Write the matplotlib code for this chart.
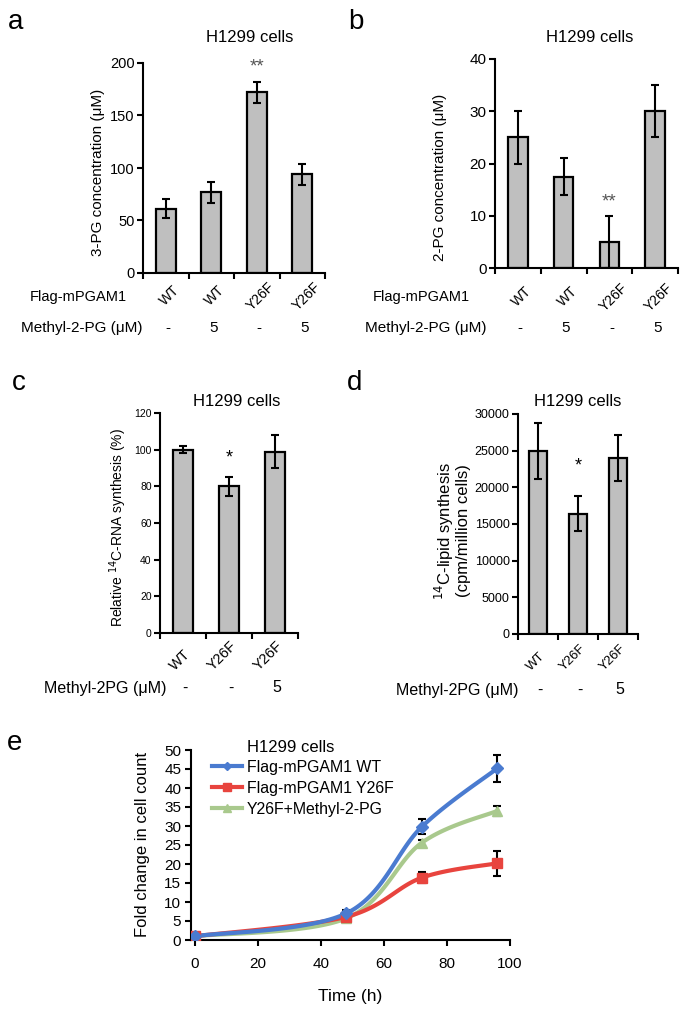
import numpy as np
import matplotlib
matplotlib.use("Agg")
import matplotlib.pyplot as plt
from matplotlib.transforms import offset_copy

plt.rcParams['font.family'] = ['Liberation Sans', 'DejaVu Sans']

# ---------------- data ----------------
a_genotype = ["WT", "WT", "Y26F", "Y26F"]
a_methyl = ["-", "5", "-", "5"]
a_values = [61, 77, 172, 94]
a_errors = [9, 10, 10, 10]

b_genotype = ["WT", "WT", "Y26F", "Y26F"]
b_methyl = ["-", "5", "-", "5"]
b_values = [25, 17.5, 5, 30]
b_errors = [5, 3.5, 5, 5]

c_genotype = ["WT", "Y26F", "Y26F"]
c_methyl = ["-", "-", "5"]
c_values = [100, 80, 99]
c_errors = [2, 5, 9]

d_genotype = ["WT", "Y26F", "Y26F"]
d_methyl = ["-", "-", "5"]
d_values = [25000, 16400, 24000]
d_errors = [3800, 2400, 3100]

e_time = [0, 48, 72, 96]
e_wt = [1, 7.0, 29.8, 45.2]
e_wt_err = [0.3, 0.8, 2.0, 3.5]
e_y26f = [1, 6.1, 16.4, 20.2]
e_y26f_err = [0.3, 0.8, 1.5, 3.3]
e_y26f_m = [1, 5.7, 25.6, 34.0]
e_y26f_m_err = [0.3, 0.5, 0.8, 1.3]
e_labels = ["Flag-mPGAM1 WT", "Flag-mPGAM1 Y26F", "Y26F+Methyl-2-PG"]

W, H = 689, 1014
fig = plt.figure(figsize=(W / 100, H / 100), dpi=100)


def rect(l, r, t, b):
    return [l / W, 1 - b / H, (r - l) / W, (b - t) / H]


def ftext(x, y, s, **kw):
    fig.text(x / W, 1 - y / H, s, **kw)


BAR = "#BFBFBF"


def bar_panel(ax, values, errors, ylim, yticks, tick_fs):
    x = np.arange(len(values))
    ax.bar(x, values, width=0.43, color=BAR, edgecolor="black", linewidth=1.6,
           yerr=errors, capsize=3, error_kw=dict(elinewidth=1.5, capthick=1.5, ecolor="black"))
    ax.set_xlim(-0.5, len(values) - 0.5)
    ax.set_ylim(*ylim)
    ax.set_yticks(yticks)
    ax.set_xticks(np.arange(len(values) + 1) - 0.5)
    ax.set_xticklabels([])
    for s in ["top", "right"]:
        ax.spines[s].set_visible(False)
    for s in ["left", "bottom"]:
        ax.spines[s].set_linewidth(1.5)
    ax.tick_params(axis="both", direction="out", length=4, width=1.5, labelsize=tick_fs, pad=2)


def xlabels(ax, labels, dx, dy, fs, ha, va):
    for i, lab in enumerate(labels):
        tr = offset_copy(ax.get_xaxis_transform(), fig=fig, x=dx, y=dy, units="dots")
        ax.text(i, 0, lab, transform=tr, rotation=45, ha=ha, va=va, fontsize=fs,
                clip_on=False)


def rowvals(ax, labels, dy, fs):
    for i, lab in enumerate(labels):
        tr = offset_copy(ax.get_xaxis_transform(), fig=fig, x=2, y=dy, units="dots")
        ax.text(i, 0, lab, transform=tr, ha="center", va="center", fontsize=fs, clip_on=False)


# ---------------- panel a ----------------
axa = fig.add_axes(rect(143, 325, 63, 273))
bar_panel(axa, a_values, a_errors, (0, 200), [0, 50, 100, 150, 200], 10.5)
xlabels(axa, a_genotype, 4, -23, 10, "center", "center")
rowvals(axa, a_methyl, -55, 11)
axa.text(2, 192, "**", ha="center", va="baseline", fontsize=13.5, color="#555555")
ftext(16, 22, "a", fontsize=20, ha="center", va="center")
ftext(250, 38, "H1299 cells", fontsize=12, ha="center", va="center")
ftext(98, 172, "3-PG concentration (μM)", fontsize=11, rotation=90, ha="center", va="center")
ftext(78, 297, "Flag-mPGAM1", fontsize=10.5, ha="center", va="center")
ftext(82, 328, "Methyl-2-PG (μM)", fontsize=11, ha="center", va="center")

# ---------------- panel b ----------------
axb = fig.add_axes(rect(495, 678, 59, 268))
bar_panel(axb, b_values, b_errors, (0, 40), [0, 10, 20, 30, 40], 11)
xlabels(axb, b_genotype, 4, -29, 10, "center", "center")
rowvals(axb, b_methyl, -60, 11)
axb.text(2, 11.8, "**", ha="center", va="baseline", fontsize=13.5, color="#555555")
ftext(356, 22, "b", fontsize=20, ha="center", va="center")
ftext(590, 38, "H1299 cells", fontsize=12, ha="center", va="center")
ftext(440, 177, "2-PG concentration (μM)", fontsize=11, rotation=90, ha="center", va="center")
ftext(421, 297, "Flag-mPGAM1", fontsize=10.5, ha="center", va="center")
ftext(426, 328, "Methyl-2-PG (μM)", fontsize=11, ha="center", va="center")

# ---------------- panel c ----------------
axc = fig.add_axes(rect(160, 298, 413, 633))
bar_panel(axc, c_values, c_errors, (0, 120), [0, 20, 40, 60, 80, 100, 120], 7.5)
xlabels(axc, c_genotype, 10, -40, 10.5, "right", "bottom")
rowvals(axc, c_methyl, -55, 11.5)
axc.text(1, 93.0, "*", ha="center", va="baseline", fontsize=13, color="black")
ftext(19, 383, "c", fontsize=20, ha="center", va="center")
ftext(237, 402, "H1299 cells", fontsize=12, ha="center", va="center")
ftext(118, 527, "Relative $^{14}$C-RNA synthesis (%)", fontsize=10, rotation=90,
      ha="center", va="center")
ftext(105, 688, "Methyl-2PG (μM)", fontsize=11.5, ha="center", va="center")

# ---------------- panel d ----------------
axd = fig.add_axes(rect(518, 638, 414, 634))
bar_panel(axd, d_values, d_errors, (0, 30000), [0, 5000, 10000, 15000, 20000, 25000, 30000], 9)
xlabels(axd, d_genotype, 10, -39, 9.5, "right", "bottom")
rowvals(axd, d_methyl, -56, 11.5)
axd.text(1, 22300, "*", ha="center", va="baseline", fontsize=13, color="black")
ftext(355, 383, "d", fontsize=20, ha="center", va="center")
ftext(578, 402, "H1299 cells", fontsize=12, ha="center", va="center")
ftext(452, 531, "$^{14}$C-lipid synthesis\n(cpm/million cells)", fontsize=12, rotation=90,
      ha="center", va="center", linespacing=1.0)
ftext(457, 690, "Methyl-2PG (μM)", fontsize=11.5, ha="center", va="center")

# ---------------- panel e ----------------
axe = fig.add_axes(rect(191, 510, 750, 940))


def smooth(xs, ys, n=40):
    """Excel-style smoothed line (Catmull-Rom / cubic Bezier) through the points."""
    P = np.column_stack([xs, ys]).astype(float)
    out = []
    for i in range(len(P) - 1):
        p0 = P[i - 1] if i > 0 else P[i]
        p1, p2 = P[i], P[i + 1]
        p3 = P[i + 2] if i + 2 < len(P) else P[i + 1]
        c1 = p1 + (p2 - p0) / 6.0
        c2 = p2 - (p3 - p1) / 6.0
        t = np.linspace(0, 1, n)[:, None]
        seg = ((1 - t) ** 3) * p1 + 3 * ((1 - t) ** 2) * t * c1 + 3 * (1 - t) * t ** 2 * c2 + t ** 3 * p2
        out.append(seg if i == 0 else seg[1:])
    s = np.vstack(out)
    return s[:, 0], s[:, 1]


series = [
    (e_wt, e_wt_err, "#4A7BD0", "D", 6, e_labels[0]),
    (e_y26f, e_y26f_err, "#E8443E", "s", 7, e_labels[1]),
    (e_y26f_m, e_y26f_m_err, "#A9C98D", "^", 7.5, e_labels[2]),
]
handles = []
for ys, err, col, mk, ms, lab in series:
    axe.errorbar(e_time, ys, yerr=err, fmt="none", ecolor="black", elinewidth=1.5,
                 capsize=3, capthick=1.5, zorder=2)
for ys, err, col, mk, ms, lab in series[::-1]:
    sx, sy = smooth(e_time, ys)
    axe.plot(sx, sy, color=col, lw=3, zorder=3, solid_capstyle="round")
    axe.plot(e_time, ys, ls="none", marker=mk, ms=ms, color=col, zorder=4)
for ys, err, col, mk, ms, lab in series:
    h, = axe.plot([], [], color=col, lw=3, marker=mk, ms=ms - 1.5, label=lab)
    handles.append(h)

axe.set_xlim(-1.3, 100)
axe.set_ylim(0, 50)
axe.set_xticks([0, 20, 40, 60, 80, 100])
axe.set_yticks(np.arange(0, 51, 5))
for s in ["top", "right"]:
    axe.spines[s].set_visible(False)
for s in ["left", "bottom"]:
    axe.spines[s].set_linewidth(1.5)
axe.tick_params(axis="both", direction="out", length=4, width=1.5, labelsize=11, pad=3)
axe.tick_params(axis="x", pad=8)
axe.set_xlabel("Time (h)", fontsize=12.5, labelpad=13)
ftext(143, 844, "Fold change in cell count", fontsize=12, rotation=90, ha="center", va="center")
ftext(15, 743, "e", fontsize=20, ha="center", va="center")
ftext(247, 747, "H1299 cells", fontsize=12, ha="left", va="center")
leg = axe.legend(handles=handles, loc="upper left", bbox_to_anchor=(212 / W, 1 - 760 / H),
                 bbox_transform=fig.transFigure, frameon=False, fontsize=11.4,
                 handlelength=1.9, handletextpad=0.3, labelspacing=0.38, borderaxespad=0,
                 borderpad=0)

fig.savefig("out.png", dpi=100)
